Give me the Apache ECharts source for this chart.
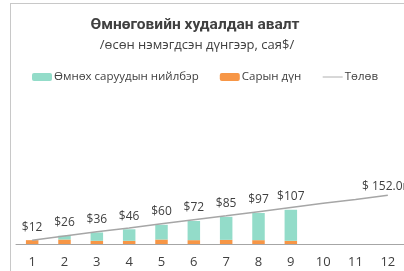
<!DOCTYPE html>
<html>
<head>
<meta charset="utf-8">
<script src="https://cdn.jsdelivr.net/npm/echarts@6/dist/echarts.min.js"></script>
<style>
    html, body { margin: 0; padding: 0; background: #fff; overflow: hidden; }
    .frame {
        position: absolute;
        left: 10px;
        top: 3px;
        width: 420px;
        height: 300px;
        border: 1px solid #c8c8c8;
    }
    #chart { position: absolute; left: 0; top: 0; width: 404px; height: 271px; }
</style>
</head>
<body>
<div class="frame"></div>
<div id="chart"></div>
<script>
    // сарууд
    const months = ['1', '2', '3', '4', '5', '6', '7', '8', '9', '10', '11', '12'];
    // өмнөх саруудын нийлбэр
    const prevSum = [0, 12, 26, 36, 46, 60, 72, 85, 97];
    // сарын дүн
    const monthly = [12, 14, 10, 10, 14, 12, 13, 12, 10];
    // нийт (шошго)
    const totals = [12, 26, 36, 46, 60, 72, 85, 97, 107];
    // төлөв
    const trend = [12, 25, 38, 50, 63, 76, 88, 101, 114, 127, 139, 152];

    const chart = echarts.init(document.getElementById('chart'));
    const option = {
        animation: false,
        title: [{
            text: 'Өмнөговийн худалдан авалт',
            left: 190,
            top: 12,
            textAlign: 'center',
            textStyle: { fontFamily: 'Roboto', fontSize: 15.5, fontWeight: 'bold', color: '#404040' }
        }, {
            text: '/өсөн нэмэгдсэн дүнгээр, сая$/',
            left: 192,
            top: 34,
            textAlign: 'center',
            textStyle: { fontFamily: 'Open Sans', fontSize: 13, fontWeight: 'normal', color: '#404040' }
        }],
        legend: {
            data: [
                'Өмнөх саруудын нийлбэр',
                'Сарын дүн',
                {name: 'Төлөв', itemStyle: {opacity: 0}, lineStyle: {width: 1, color: '#b0b0b0'}}
            ],
            left: 27,
            top: 66,
            itemWidth: 20,
            itemHeight: 8,
            itemGap: 21,
            textStyle: { fontFamily: 'Open Sans', fontSize: 11.5, color: '#404040', padding: [0, 0, 0, -3] }
        },
        grid: { left: 16, right: -1, top: 84, bottom: 27 },
        xAxis: {
            type: 'category',
            data: months,
            axisLine: { lineStyle: { color: '#a6a6a6' } },
            axisTick: { length: 5, lineStyle: { color: '#a6a6a6' } },
            axisLabel: { fontFamily: 'Open Sans', fontSize: 13, color: '#404040', margin: 12 }
        },
        yAxis: {
            type: 'value',
            min: 0,
            max: 500,
            show: false
        },
        series: [{
            name: 'Сарын дүн',
            type: 'bar',
            stack: 'total',
            data: monthly,
            barWidth: 12.5,
            itemStyle: { color: '#f79646' }
        }, {
            name: 'Өмнөх саруудын нийлбэр',
            type: 'bar',
            stack: 'total',
            data: prevSum,
            barWidth: 12.5,
            itemStyle: { color: '#93dcc9' },
            label: {
                show: true,
                position: 'top',
                distance: 7,
                fontFamily: 'Open Sans',
                fontSize: 12,
                color: '#404040',
                formatter: function (p) {
                    return '$' + totals[p.dataIndex];
                }
            }
        }, {
            name: 'Төлөв',
            type: 'line',
            data: trend,
            symbol: 'circle',
            symbolSize: 0.1,
            lineStyle: { color: '#a6a6a6', width: 1.5 },
            itemStyle: { color: '#a6a6a6' },
            label: {
                show: true,
                position: 'top',
                distance: 3,
                fontFamily: 'Open Sans',
                fontSize: 12,
                color: '#404040',
                formatter: function (p) {
                    return p.dataIndex === trend.length - 1 ? '$ ' + p.value.toFixed(1) + 'm' : '';
                }
            }
        }]
    };
    chart.setOption(option);
</script>
</body>
</html>
